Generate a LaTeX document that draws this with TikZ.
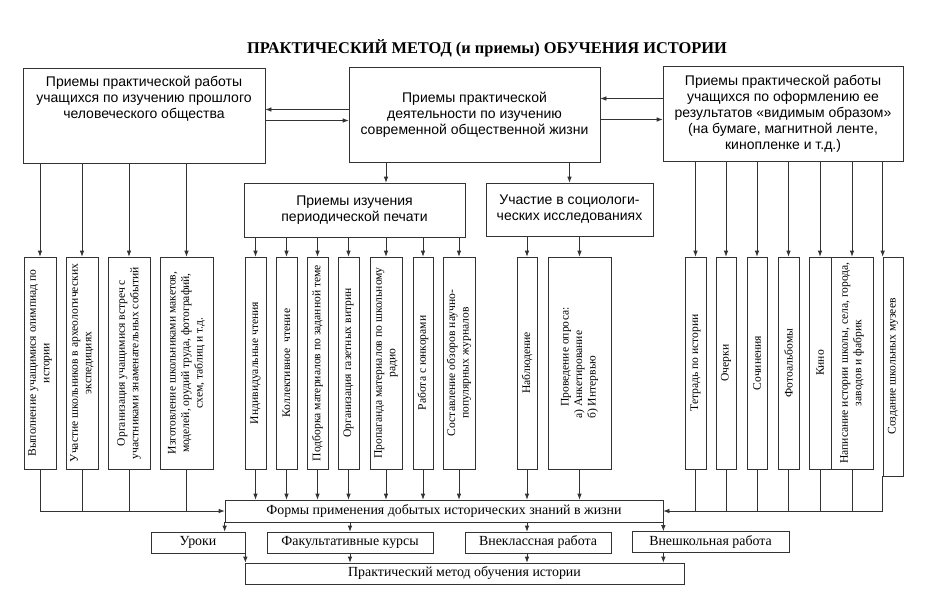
\documentclass[tikz,border=0pt]{standalone}
\usepackage{fontspec}
\setmainfont{Liberation Serif}
\setsansfont{Liberation Sans}
\usetikzlibrary{arrows.meta}

\begin{document}
\begin{tikzpicture}[x=1pt,y=-1pt,
    box/.style={draw=black!80, line width=0.7pt, inner sep=2pt, align=center},
    bigbox/.style={box, minimum height=95pt, font=\sffamily\fontsize{14}{16}\selectfont},
    midbox/.style={box, font=\sffamily\fontsize{14}{16}\selectfont},
    vbox/.style={box, rotate=90, minimum width=212pt, inner sep=1pt, font=\fontsize{11.6}{13.5}\selectfont},
    lowbox/.style={box, minimum height=21pt, inner sep=1pt, text height=9.5pt, text depth=3pt, font=\fontsize{13.9}{16}\selectfont},
    ln/.style={draw=black!80, line width=0.7pt},
    arr/.style={ln, -{Latex[length=6pt,width=4.5pt]}}]

    \useasboundingbox (0,0) rectangle (941,600);

    \node[font=\bfseries\fontsize{16.4}{19}\selectfont] (title) at (487,48) {ПРАКТИЧЕСКИЙ МЕТОД (и приемы) ОБУЧЕНИЯ ИСТОРИИ};

    % upper row
    \node[bigbox, minimum width=242pt] (past) at (144,115.5) {\parbox[c][78pt][t]{236pt}{\centering Приемы практической работы\\ учащихся по изучению прошлого\\ человеческого общества}};
    \node[bigbox, minimum width=251pt] (pres) at (474.5,114.5) {Приемы практической\\ деятельности по изучению\\ современной общественной жизни};
    \node[bigbox, minimum width=240pt] (res) at (783,113.5) {Приемы практической работы\\ учащихся по оформлению ее\\ результатов «видимым образом»\\ (на бумаге, магнитной ленте,\\ кинопленке и т.д.)};

    \node[midbox, minimum width=221pt, minimum height=54pt] (per) at (354.5,210) {Приемы изучения\\ периодической печати};
    \node[midbox, minimum width=167pt, minimum height=53pt] (soc) at (569.5,209.5) {Участие в социологи-\\ ческих исследованиях};

    \draw[arr] ([yshift=5pt]pres.west) -- ([yshift=5pt]pres.west -| past.east);
    \draw[arr] ([yshift=-6pt]pres.west -| past.east) -- ([yshift=-6pt]pres.west);
    \draw[arr] ([yshift=16pt]pres.east -| res.west) -- ([yshift=16pt]pres.east);
    \draw[arr] ([yshift=-5pt]pres.east) -- ([yshift=-5pt]pres.east -| res.west);

    % vertical boxes
    \node[vbox, minimum height=32pt] (v1) at (40,363) {Выполнение учащимися олимпиад по\\ истории};
    \node[vbox, minimum height=32pt] (v2) at (82,363) {Участие школьников в археологических\\ экспедициях};
    \node[vbox, minimum height=42pt] (v3) at (129,363) {Организация учащимися встреч с\\ участниками знаменательных событий};
    \node[vbox, minimum height=53pt] (v4) at (186.5,363) {Изготовление школьниками макетов,\\ моделей, орудий труда, фотографий,\\ схем, таблиц и т.д.};

    \node[vbox, minimum height=21pt] (p1) at (255.5,363) {Индивидуальные чтения};
    \node[vbox, minimum height=21pt] (p2) at (286.5,363) {Коллективное~ чтение};
    \node[vbox, minimum height=21pt] (p3) at (317.5,363) {Подборка материалов по заданной теме};
    \node[vbox, minimum height=21pt] (p4) at (348.5,363) {Организация газетных витрин};
    \node[vbox, minimum height=32pt] (p5) at (386,363) {Пропаганда материалов по школьному\\ радио};
    \node[vbox, minimum height=20pt] (p6) at (423,363) {Работа с юнкорами};
    \node[vbox, minimum height=32pt] (p7) at (459,363) {Составление обзоров научно-\\ популярных журналов};

    \node[vbox, minimum height=20pt] (s1) at (527,363) {Наблюдение};
    \node[vbox, minimum height=63pt, align=left] (s2) at (579.5,363) {\hspace{12pt}Проведение опроса:\\ а) Анкетирование\\ б) Интервью};

    \node[vbox, minimum height=21pt] (r1) at (695.5,363) {Тетрадь по истории};
    \node[vbox, minimum height=20pt] (r2) at (726,363) {Очерки};
    \node[vbox, minimum height=20pt] (r3) at (757,363) {Сочинения};
    \node[vbox, minimum height=21pt] (r4) at (788.5,363) {Фотоальбомы};
    \node[vbox, minimum height=22pt] (r5) at (820,363) {Кино};
    \node[vbox, minimum height=42pt] (r6) at (852,363) {Написание истории школы, села, города,\\ заводов и фабрик};
    \node[vbox, minimum height=20pt, minimum width=219pt] (r7) at (893,366.5) {Создание школьных музеев};

    % lower rows
    \node[lowbox, minimum width=438pt, minimum height=22pt] (forms) at (444,511) {Формы применения добытых исторических знаний в жизни};
    \node[lowbox, minimum width=94pt] (uroki) at (198,542.5) {Уроки};
    \node[lowbox, minimum width=166pt] (fak) at (350,542.5) {Факультативные курсы};
    \node[lowbox, minimum width=146pt] (vnekl) at (538,542.5) {Внеклассная работа};
    \node[lowbox, minimum width=157pt] (vnesh) at (710.5,542) {Внешкольная работа};
    \node[lowbox, minimum width=439pt] (prakt) at (464.5,573.5) {Практический метод обучения истории};

    % connectors
    \foreach \n in {v1,v2,v3,v4}
        \draw[arr] (past.south -| \n.east) -- (\n.east);
    \foreach \n in {p1,p2,p3,p4,p5,p6,p7}
        \draw[arr] (per.south -| \n.east) -- (\n.east);
    \foreach \n in {s1,s2}
        \draw[arr] (soc.south -| \n.east) -- (\n.east);
    \foreach \n in {r1,r2,r3,r4,r5,r6}
        \draw[arr] (res.south -| \n.east) -- (\n.east);
    \draw[arr] (res.south -| r7.north east) -- (r7.north east);
    \draw[arr] (pres.south -| p5.east) -- (per.north -| p5.east);
    \draw[arr] (pres.south -| soc.north) -- (soc.north);

    \foreach \n in {v2,v3,v4}
        \draw[ln] (\n.west) -- (\n.west |- forms.west);
    \draw[arr] (v1.west) |- (forms.west);
    \foreach \n in {p1,p2,p3,p4,p5,p6,p7,s1,s2}
        \draw[arr] (\n.west) -- (\n.west |- forms.north);
    \foreach \n in {r1,r2,r3,r4,r5,r6}
        \draw[ln] (\n.west) -- (\n.west |- forms.east);
    \draw[arr] (r7.north west) |- (forms.east);

    \draw[arr] (forms.south west) -- (forms.south west |- uroki.north);
    \draw[arr] (forms.south -| fak.north) -- (fak.north);
    \draw[arr] ([xshift=-11pt]vnekl.north |- forms.south) -- ([xshift=-11pt]vnekl.north);
    \draw[arr] (forms.south east) -- (forms.south east |- vnesh.north);

    \draw[arr] (uroki.south east) -- (uroki.south east |- prakt.north);
    \draw[arr] (fak.south) -- (fak.south |- prakt.north);
    \draw[arr] ([xshift=-11pt]vnekl.south) -- ([xshift=-11pt]vnekl.south |- prakt.north);
    \draw[arr] (vnesh.south -| forms.east) -- (forms.east |- prakt.north);
\end{tikzpicture}
\end{document}
